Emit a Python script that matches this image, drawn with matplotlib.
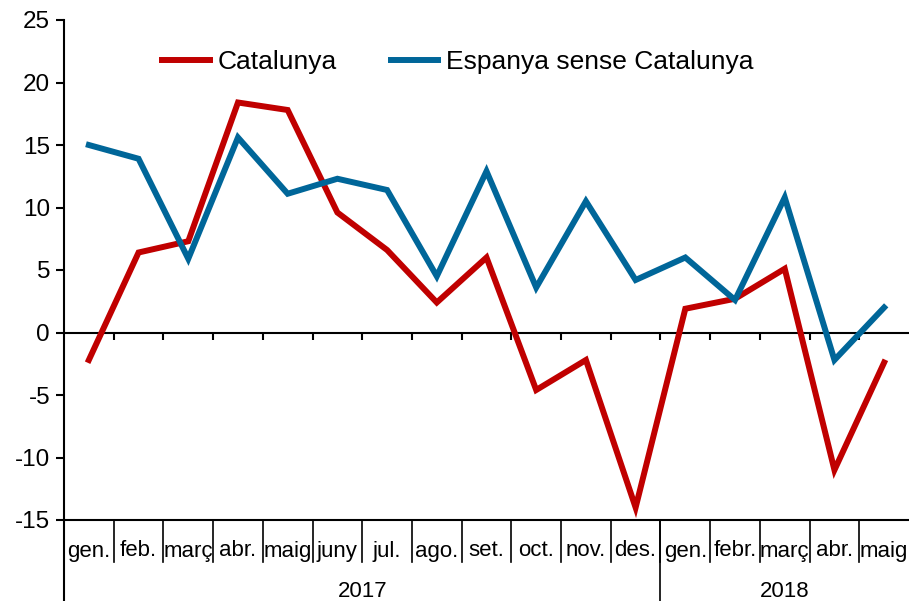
import matplotlib
matplotlib.use("Agg")
import matplotlib.pyplot as plt
import matplotlib.transforms as mtransforms

plt.rcParams['font.family'] = ['Liberation Sans', 'DejaVu Sans']
plt.rcParams['axes.unicode_minus'] = False

months = ["gen.", "feb.", "març", "abr.", "maig", "juny", "jul.", "ago.", "set.",
          "oct.", "nov.", "des.", "gen.", "febr.", "març", "abr.", "maig"]
years = ["2017", "2018"]
year_counts = [12, 5]
catalunya = [-2.2, 6.4, 7.3, 18.4, 17.8, 9.6, 6.6, 2.4, 6.0, -4.6, -2.2, -14.0,
             1.9, 2.7, 5.1, -11.0, -2.4]
espanya = [15.0, 13.9, 5.9, 15.6, 11.1, 12.3, 11.4, 4.5, 12.9, 3.6, 10.5, 4.2,
           6.0, 2.6, 10.8, -2.2, 2.0]

fig = plt.figure(figsize=(9.09, 6.01), dpi=100)
ax = fig.add_axes([64/909, 1-520/601, 1-64/909, 500/601])
x = list(range(len(months)))
ax.plot(x, catalunya, color='#C00000', lw=4.3, label='Catalunya', solid_joinstyle='miter')
ax.plot(x, espanya, color='#006699', lw=4.3, label='Espanya sense Catalunya', solid_joinstyle='miter')

ax.set_xlim(-0.5, len(months) - 0.5)
ax.set_ylim(-15, 25)
ax.set_yticks(range(-15, 30, 5))
ax.tick_params(axis='y', labelsize=17.5, direction='out', length=6, width=1.5, pad=4)
for s in ['top', 'right']:
    ax.spines[s].set_visible(False)
ax.spines['left'].set_linewidth(1.5)
ax.spines['bottom'].set_linewidth(1.5)
ax.set_xticks([])

# zero line with tick marks
ax.axhline(0, color='black', lw=1.5, zorder=1)
bounds = [i + 0.5 for i in range(len(months) - 1)]
ax.vlines(bounds, -0.6, 0, color='black', lw=1.5, zorder=1)

trans = mtransforms.blended_transform_factory(ax.transData, ax.transAxes)
for i, m in enumerate(months):
    ax.text(i, -0.062, m, transform=trans, ha='center', va='center', fontsize=16)
for b in bounds:
    ax.plot([b, b], [0, -0.084], transform=trans, color='black', lw=1.2, clip_on=False)
start = 0
for yname, cnt in zip(years, year_counts):
    ax.text(start + (cnt - 1) / 2, -0.143, yname, transform=trans, ha='center', va='center', fontsize=16)
    start += cnt
ax.plot([11.5, 11.5], [0, -0.17], transform=trans, color='black', lw=1.2, clip_on=False)
ax.plot([-0.5, -0.5], [0, -0.17], transform=trans, color='black', lw=1.5, clip_on=False)

ax.legend(loc='upper left', bbox_to_anchor=(0.088, 0.988), ncol=2, frameon=False,
          fontsize=19, handlelength=1.8, columnspacing=2.05, handletextpad=0.3)

fig.savefig('out.png', dpi=100)
